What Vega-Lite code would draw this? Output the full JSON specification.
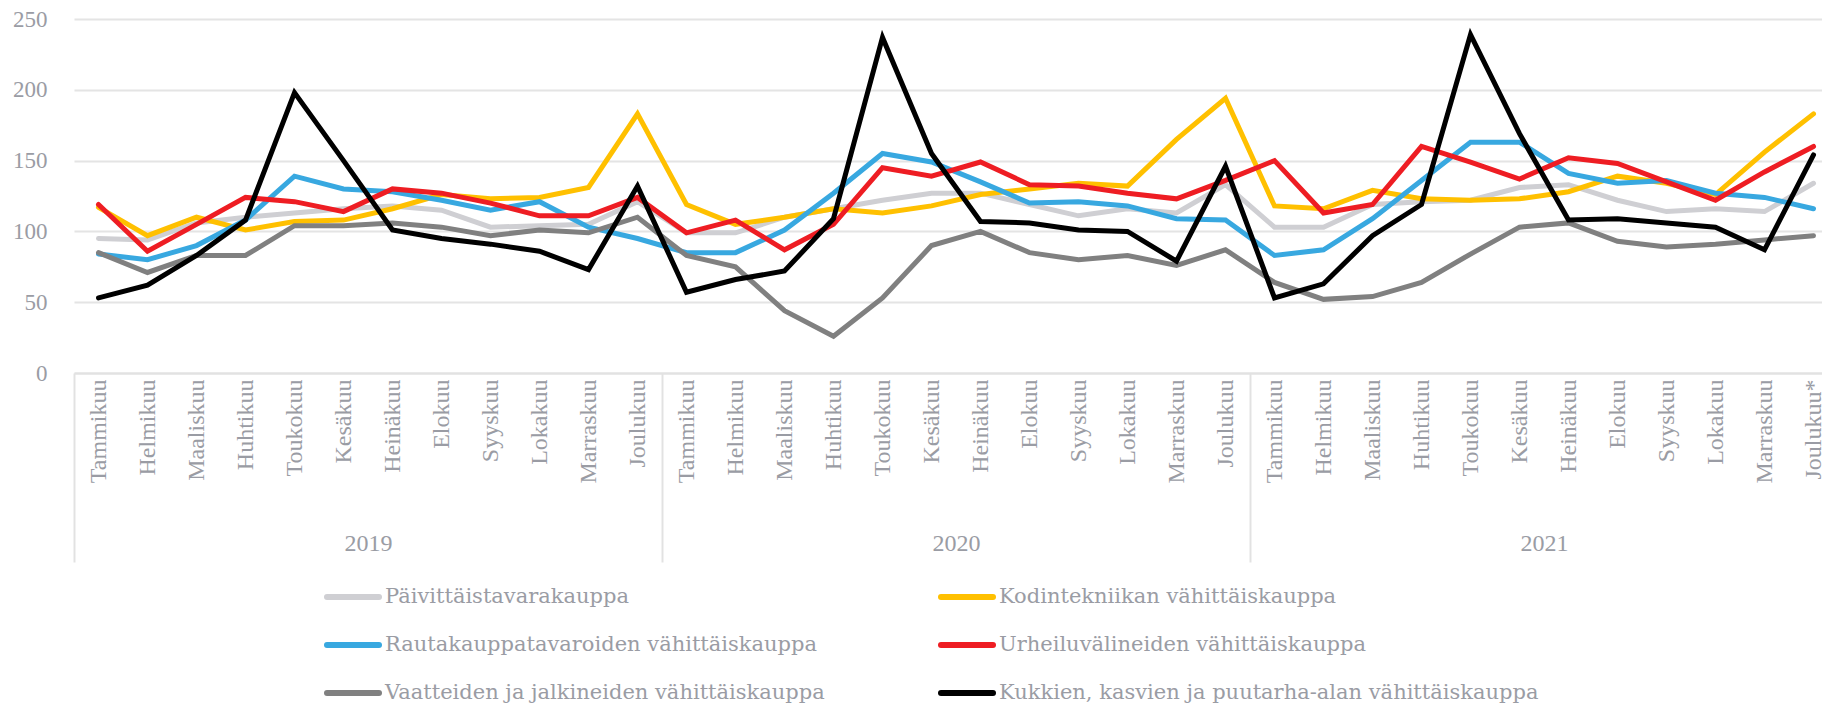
{
  "$schema": "https://vega.github.io/schema/vega-lite/v6.json",
  "width": 1748,
  "height": 354,
  "autosize": {"type": "none"},
  "padding": {"left": 74, "top": 19, "right": 0, "bottom": 336},
  "config": {"view": {"stroke": null}, "font": "Liberation Serif"},
  "resolve": {"scale": {"x": "independent"}},
  "layer": [
    {
      "data": {
        "values": [
          {"t": "2019-01", "Päivittäistavarakauppa": 95, "Kodintekniikan vähittäiskauppa": 117, "Rautakauppatavaroiden vähittäiskauppa": 84, "Urheiluvälineiden vähittäiskauppa": 119, "Vaatteiden ja jalkineiden vähittäiskauppa": 85, "Kukkien, kasvien ja puutarha-alan vähittäiskauppa": 53},
          {"t": "2019-02", "Päivittäistavarakauppa": 94, "Kodintekniikan vähittäiskauppa": 97, "Rautakauppatavaroiden vähittäiskauppa": 80, "Urheiluvälineiden vähittäiskauppa": 86, "Vaatteiden ja jalkineiden vähittäiskauppa": 71, "Kukkien, kasvien ja puutarha-alan vähittäiskauppa": 62},
          {"t": "2019-03", "Päivittäistavarakauppa": 106, "Kodintekniikan vähittäiskauppa": 110, "Rautakauppatavaroiden vähittäiskauppa": 90, "Urheiluvälineiden vähittäiskauppa": 105, "Vaatteiden ja jalkineiden vähittäiskauppa": 83, "Kukkien, kasvien ja puutarha-alan vähittäiskauppa": 83},
          {"t": "2019-04", "Päivittäistavarakauppa": 110, "Kodintekniikan vähittäiskauppa": 101, "Rautakauppatavaroiden vähittäiskauppa": 108, "Urheiluvälineiden vähittäiskauppa": 124, "Vaatteiden ja jalkineiden vähittäiskauppa": 83, "Kukkien, kasvien ja puutarha-alan vähittäiskauppa": 108},
          {"t": "2019-05", "Päivittäistavarakauppa": 113, "Kodintekniikan vähittäiskauppa": 107, "Rautakauppatavaroiden vähittäiskauppa": 139, "Urheiluvälineiden vähittäiskauppa": 121, "Vaatteiden ja jalkineiden vähittäiskauppa": 104, "Kukkien, kasvien ja puutarha-alan vähittäiskauppa": 198},
          {"t": "2019-06", "Päivittäistavarakauppa": 116, "Kodintekniikan vähittäiskauppa": 108, "Rautakauppatavaroiden vähittäiskauppa": 130, "Urheiluvälineiden vähittäiskauppa": 114, "Vaatteiden ja jalkineiden vähittäiskauppa": 104, "Kukkien, kasvien ja puutarha-alan vähittäiskauppa": 150},
          {"t": "2019-07", "Päivittäistavarakauppa": 118, "Kodintekniikan vähittäiskauppa": 116, "Rautakauppatavaroiden vähittäiskauppa": 128, "Urheiluvälineiden vähittäiskauppa": 130, "Vaatteiden ja jalkineiden vähittäiskauppa": 106, "Kukkien, kasvien ja puutarha-alan vähittäiskauppa": 101},
          {"t": "2019-08", "Päivittäistavarakauppa": 115, "Kodintekniikan vähittäiskauppa": 126, "Rautakauppatavaroiden vähittäiskauppa": 122, "Urheiluvälineiden vähittäiskauppa": 127, "Vaatteiden ja jalkineiden vähittäiskauppa": 103, "Kukkien, kasvien ja puutarha-alan vähittäiskauppa": 95},
          {"t": "2019-09", "Päivittäistavarakauppa": 103, "Kodintekniikan vähittäiskauppa": 123, "Rautakauppatavaroiden vähittäiskauppa": 115, "Urheiluvälineiden vähittäiskauppa": 120, "Vaatteiden ja jalkineiden vähittäiskauppa": 97, "Kukkien, kasvien ja puutarha-alan vähittäiskauppa": 91},
          {"t": "2019-10", "Päivittäistavarakauppa": 104, "Kodintekniikan vähittäiskauppa": 124, "Rautakauppatavaroiden vähittäiskauppa": 121, "Urheiluvälineiden vähittäiskauppa": 111, "Vaatteiden ja jalkineiden vähittäiskauppa": 101, "Kukkien, kasvien ja puutarha-alan vähittäiskauppa": 86},
          {"t": "2019-11", "Päivittäistavarakauppa": 105, "Kodintekniikan vähittäiskauppa": 131, "Rautakauppatavaroiden vähittäiskauppa": 103, "Urheiluvälineiden vähittäiskauppa": 111, "Vaatteiden ja jalkineiden vähittäiskauppa": 99, "Kukkien, kasvien ja puutarha-alan vähittäiskauppa": 73},
          {"t": "2019-12", "Päivittäistavarakauppa": 121, "Kodintekniikan vähittäiskauppa": 183, "Rautakauppatavaroiden vähittäiskauppa": 95, "Urheiluvälineiden vähittäiskauppa": 124, "Vaatteiden ja jalkineiden vähittäiskauppa": 110, "Kukkien, kasvien ja puutarha-alan vähittäiskauppa": 132},
          {"t": "2020-01", "Päivittäistavarakauppa": 99, "Kodintekniikan vähittäiskauppa": 119, "Rautakauppatavaroiden vähittäiskauppa": 85, "Urheiluvälineiden vähittäiskauppa": 99, "Vaatteiden ja jalkineiden vähittäiskauppa": 83, "Kukkien, kasvien ja puutarha-alan vähittäiskauppa": 57},
          {"t": "2020-02", "Päivittäistavarakauppa": 99, "Kodintekniikan vähittäiskauppa": 105, "Rautakauppatavaroiden vähittäiskauppa": 85, "Urheiluvälineiden vähittäiskauppa": 108, "Vaatteiden ja jalkineiden vähittäiskauppa": 75, "Kukkien, kasvien ja puutarha-alan vähittäiskauppa": 66},
          {"t": "2020-03", "Päivittäistavarakauppa": 110, "Kodintekniikan vähittäiskauppa": 110, "Rautakauppatavaroiden vähittäiskauppa": 101, "Urheiluvälineiden vähittäiskauppa": 87, "Vaatteiden ja jalkineiden vähittäiskauppa": 44, "Kukkien, kasvien ja puutarha-alan vähittäiskauppa": 72},
          {"t": "2020-04", "Päivittäistavarakauppa": 116, "Kodintekniikan vähittäiskauppa": 116, "Rautakauppatavaroiden vähittäiskauppa": 127, "Urheiluvälineiden vähittäiskauppa": 105, "Vaatteiden ja jalkineiden vähittäiskauppa": 26, "Kukkien, kasvien ja puutarha-alan vähittäiskauppa": 109},
          {"t": "2020-05", "Päivittäistavarakauppa": 122, "Kodintekniikan vähittäiskauppa": 113, "Rautakauppatavaroiden vähittäiskauppa": 155, "Urheiluvälineiden vähittäiskauppa": 145, "Vaatteiden ja jalkineiden vähittäiskauppa": 53, "Kukkien, kasvien ja puutarha-alan vähittäiskauppa": 237},
          {"t": "2020-06", "Päivittäistavarakauppa": 127, "Kodintekniikan vähittäiskauppa": 118, "Rautakauppatavaroiden vähittäiskauppa": 149, "Urheiluvälineiden vähittäiskauppa": 139, "Vaatteiden ja jalkineiden vähittäiskauppa": 90, "Kukkien, kasvien ja puutarha-alan vähittäiskauppa": 155},
          {"t": "2020-07", "Päivittäistavarakauppa": 127, "Kodintekniikan vähittäiskauppa": 126, "Rautakauppatavaroiden vähittäiskauppa": 135, "Urheiluvälineiden vähittäiskauppa": 149, "Vaatteiden ja jalkineiden vähittäiskauppa": 100, "Kukkien, kasvien ja puutarha-alan vähittäiskauppa": 107},
          {"t": "2020-08", "Päivittäistavarakauppa": 119, "Kodintekniikan vähittäiskauppa": 130, "Rautakauppatavaroiden vähittäiskauppa": 120, "Urheiluvälineiden vähittäiskauppa": 133, "Vaatteiden ja jalkineiden vähittäiskauppa": 85, "Kukkien, kasvien ja puutarha-alan vähittäiskauppa": 106},
          {"t": "2020-09", "Päivittäistavarakauppa": 111, "Kodintekniikan vähittäiskauppa": 134, "Rautakauppatavaroiden vähittäiskauppa": 121, "Urheiluvälineiden vähittäiskauppa": 132, "Vaatteiden ja jalkineiden vähittäiskauppa": 80, "Kukkien, kasvien ja puutarha-alan vähittäiskauppa": 101},
          {"t": "2020-10", "Päivittäistavarakauppa": 116, "Kodintekniikan vähittäiskauppa": 132, "Rautakauppatavaroiden vähittäiskauppa": 118, "Urheiluvälineiden vähittäiskauppa": 127, "Vaatteiden ja jalkineiden vähittäiskauppa": 83, "Kukkien, kasvien ja puutarha-alan vähittäiskauppa": 100},
          {"t": "2020-11", "Päivittäistavarakauppa": 113, "Kodintekniikan vähittäiskauppa": 165, "Rautakauppatavaroiden vähittäiskauppa": 109, "Urheiluvälineiden vähittäiskauppa": 123, "Vaatteiden ja jalkineiden vähittäiskauppa": 76, "Kukkien, kasvien ja puutarha-alan vähittäiskauppa": 79},
          {"t": "2020-12", "Päivittäistavarakauppa": 133, "Kodintekniikan vähittäiskauppa": 194, "Rautakauppatavaroiden vähittäiskauppa": 108, "Urheiluvälineiden vähittäiskauppa": 136, "Vaatteiden ja jalkineiden vähittäiskauppa": 87, "Kukkien, kasvien ja puutarha-alan vähittäiskauppa": 146},
          {"t": "2021-01", "Päivittäistavarakauppa": 103, "Kodintekniikan vähittäiskauppa": 118, "Rautakauppatavaroiden vähittäiskauppa": 83, "Urheiluvälineiden vähittäiskauppa": 150, "Vaatteiden ja jalkineiden vähittäiskauppa": 64, "Kukkien, kasvien ja puutarha-alan vähittäiskauppa": 53},
          {"t": "2021-02", "Päivittäistavarakauppa": 103, "Kodintekniikan vähittäiskauppa": 116, "Rautakauppatavaroiden vähittäiskauppa": 87, "Urheiluvälineiden vähittäiskauppa": 113, "Vaatteiden ja jalkineiden vähittäiskauppa": 52, "Kukkien, kasvien ja puutarha-alan vähittäiskauppa": 63},
          {"t": "2021-03", "Päivittäistavarakauppa": 119, "Kodintekniikan vähittäiskauppa": 129, "Rautakauppatavaroiden vähittäiskauppa": 109, "Urheiluvälineiden vähittäiskauppa": 119, "Vaatteiden ja jalkineiden vähittäiskauppa": 54, "Kukkien, kasvien ja puutarha-alan vähittäiskauppa": 97},
          {"t": "2021-04", "Päivittäistavarakauppa": 121, "Kodintekniikan vähittäiskauppa": 123, "Rautakauppatavaroiden vähittäiskauppa": 136, "Urheiluvälineiden vähittäiskauppa": 160, "Vaatteiden ja jalkineiden vähittäiskauppa": 64, "Kukkien, kasvien ja puutarha-alan vähittäiskauppa": 119},
          {"t": "2021-05", "Päivittäistavarakauppa": 122, "Kodintekniikan vähittäiskauppa": 122, "Rautakauppatavaroiden vähittäiskauppa": 163, "Urheiluvälineiden vähittäiskauppa": 149, "Vaatteiden ja jalkineiden vähittäiskauppa": 84, "Kukkien, kasvien ja puutarha-alan vähittäiskauppa": 239},
          {"t": "2021-06", "Päivittäistavarakauppa": 131, "Kodintekniikan vähittäiskauppa": 123, "Rautakauppatavaroiden vähittäiskauppa": 163, "Urheiluvälineiden vähittäiskauppa": 137, "Vaatteiden ja jalkineiden vähittäiskauppa": 103, "Kukkien, kasvien ja puutarha-alan vähittäiskauppa": 169},
          {"t": "2021-07", "Päivittäistavarakauppa": 133, "Kodintekniikan vähittäiskauppa": 128, "Rautakauppatavaroiden vähittäiskauppa": 141, "Urheiluvälineiden vähittäiskauppa": 152, "Vaatteiden ja jalkineiden vähittäiskauppa": 106, "Kukkien, kasvien ja puutarha-alan vähittäiskauppa": 108},
          {"t": "2021-08", "Päivittäistavarakauppa": 122, "Kodintekniikan vähittäiskauppa": 139, "Rautakauppatavaroiden vähittäiskauppa": 134, "Urheiluvälineiden vähittäiskauppa": 148, "Vaatteiden ja jalkineiden vähittäiskauppa": 93, "Kukkien, kasvien ja puutarha-alan vähittäiskauppa": 109},
          {"t": "2021-09", "Päivittäistavarakauppa": 114, "Kodintekniikan vähittäiskauppa": 134, "Rautakauppatavaroiden vähittäiskauppa": 136, "Urheiluvälineiden vähittäiskauppa": 135, "Vaatteiden ja jalkineiden vähittäiskauppa": 89, "Kukkien, kasvien ja puutarha-alan vähittäiskauppa": 106},
          {"t": "2021-10", "Päivittäistavarakauppa": 116, "Kodintekniikan vähittäiskauppa": 126, "Rautakauppatavaroiden vähittäiskauppa": 127, "Urheiluvälineiden vähittäiskauppa": 122, "Vaatteiden ja jalkineiden vähittäiskauppa": 91, "Kukkien, kasvien ja puutarha-alan vähittäiskauppa": 103},
          {"t": "2021-11", "Päivittäistavarakauppa": 114, "Kodintekniikan vähittäiskauppa": 156, "Rautakauppatavaroiden vähittäiskauppa": 124, "Urheiluvälineiden vähittäiskauppa": 142, "Vaatteiden ja jalkineiden vähittäiskauppa": 94, "Kukkien, kasvien ja puutarha-alan vähittäiskauppa": 87},
          {"t": "2021-12", "Päivittäistavarakauppa": 134, "Kodintekniikan vähittäiskauppa": 183, "Rautakauppatavaroiden vähittäiskauppa": 116, "Urheiluvälineiden vähittäiskauppa": 160, "Vaatteiden ja jalkineiden vähittäiskauppa": 97, "Kukkien, kasvien ja puutarha-alan vähittäiskauppa": 154}
        ]
      },
      "transform": [
        {"fold": ["Päivittäistavarakauppa", "Kodintekniikan vähittäiskauppa", "Rautakauppatavaroiden vähittäiskauppa", "Urheiluvälineiden vähittäiskauppa", "Vaatteiden ja jalkineiden vähittäiskauppa", "Kukkien, kasvien ja puutarha-alan vähittäiskauppa"], "as": ["sarja", "arvo"]}
      ],
      "mark": {"type": "line", "strokeWidth": 5, "strokeCap": "round"},
      "encoding": {
        "x": {
          "field": "t",
          "type": "ordinal",
          "scale": {"type": "point", "padding": 0.5, "range": [0, 1764]},
          "axis": {
            "title": null,
            "labelExpr": "['Tammikuu','Helmikuu','Maaliskuu','Huhtikuu','Toukokuu','Kesäkuu','Heinäkuu','Elokuu','Syyskuu','Lokakuu','Marraskuu','Joulukuu'][toNumber(substring(datum.value,5,7))-1] + (datum.value == '2021-12' ? '*' : '')",
            "labelAngle": -90,
            "labelFont": "Liberation Serif",
            "labelFontSize": 24,
            "labelColor": "#9a9ca4",
            "ticks": false,
            "tickSize": 0,
            "labelPadding": 6,
            "domainColor": "#e2e2e2",
            "domainWidth": 2,
            "grid": false,
            "labelOverlap": false,
            "labelBound": false
          }
        },
        "y": {
          "field": "arvo",
          "type": "quantitative",
          "scale": {"domain": [0, 250]},
          "axis": {
            "title": null,
            "values": [0, 50, 100, 150, 200, 250],
            "grid": true,
            "gridColor": "#e4e4e4",
            "gridWidth": 2,
            "domain": false,
            "ticks": false,
            "tickSize": 0,
            "labelPadding": 27,
            "labelFont": "Liberation Serif",
            "labelFontSize": 23,
            "labelColor": "#9a9ca4"
          }
        },
        "color": {
          "field": "sarja",
          "type": "nominal",
          "scale": {
            "domain": ["Päivittäistavarakauppa", "Kodintekniikan vähittäiskauppa", "Rautakauppatavaroiden vähittäiskauppa", "Urheiluvälineiden vähittäiskauppa", "Vaatteiden ja jalkineiden vähittäiskauppa", "Kukkien, kasvien ja puutarha-alan vähittäiskauppa"],
            "range": ["#cfcfd3", "#ffc000", "#38a8e0", "#ee1d23", "#808080", "#000000"]
          },
          "legend": {
            "title": null,
            "orient": "none",
            "direction": "horizontal",
            "legendX": 250,
            "legendY": 549,
            "columns": 2,
            "symbolType": "stroke",
            "symbolSize": 2704,
            "symbolStrokeWidth": 6,
            "labelFont": "DejaVu Serif",
            "labelFontSize": 21,
            "labelColor": "#9a9ca4",
            "labelLimit": 0,
            "rowPadding": 7,
            "columnPadding": 104,
            "labelOffset": 3,
            "padding": 0,
            "encode": {"symbols": {"update": {"strokeCap": {"value": "round"}}}}
          }
        }
      }
    },
    {
      "data": {"values": [{"vuosi": "2019"}, {"vuosi": "2020"}, {"vuosi": "2021"}]},
      "mark": {"type": "bar", "opacity": 0},
      "encoding": {
        "x": {
          "field": "vuosi",
          "type": "ordinal",
          "scale": {"type": "band", "paddingInner": 0, "paddingOuter": 0, "range": [0, 1764]},
          "axis": {
            "title": null,
            "orient": "bottom",
            "domain": false,
            "ticks": true,
            "tickBand": "extent",
            "tickSize": 189,
            "tickColor": "#e2e2e2",
            "tickWidth": 2,
            "labelPadding": -19,
            "labelBaseline": "middle",
            "labelAngle": 0,
            "labelFont": "Liberation Serif",
            "labelFontSize": 24,
            "labelColor": "#9a9ca4",
            "grid": false
          }
        }
      }
    }
  ]
}
